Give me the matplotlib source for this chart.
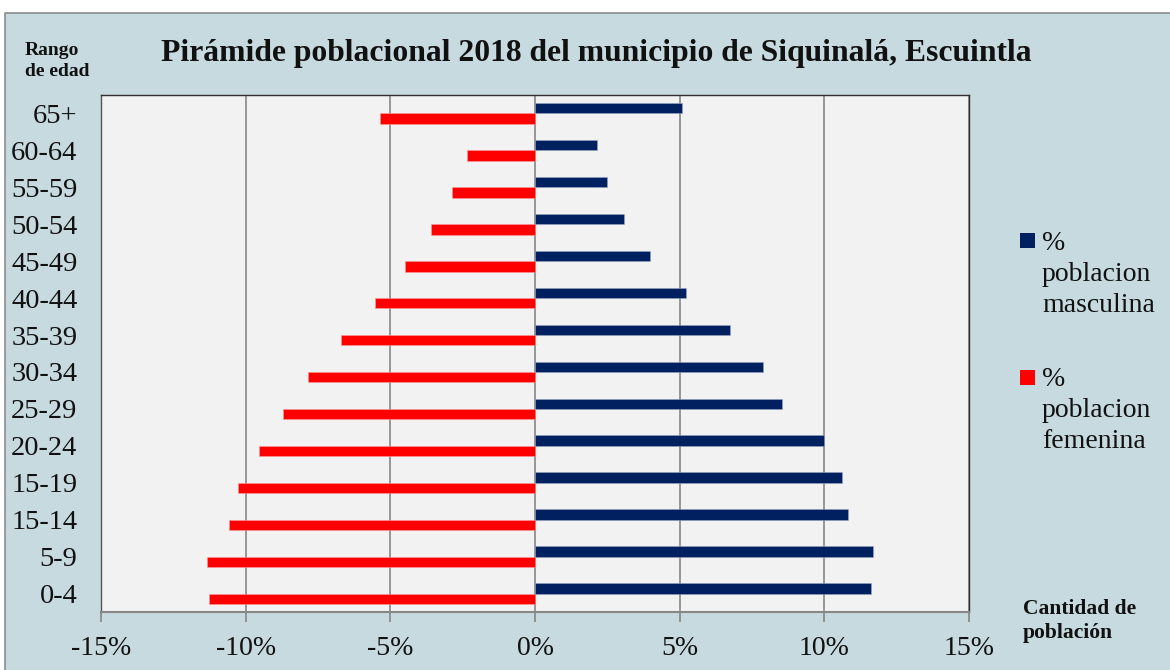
import matplotlib
matplotlib.use("Agg")
import matplotlib.pyplot as plt
from matplotlib.patches import Rectangle
from matplotlib.ticker import FuncFormatter

# ---- data ----
age_groups = ["0-4", "5-9", "15-14", "15-19", "20-24", "25-29", "30-34",
              "35-39", "40-44", "45-49", "50-54", "55-59", "60-64", "65+"]
male_pct = [11.60, 11.68, 10.83, 10.62, 9.98, 8.53, 7.89,
            6.75, 5.22, 3.96, 3.06, 2.48, 2.15, 5.08]
female_pct = [11.26, 11.33, 10.56, 10.28, 9.55, 8.72, 7.85,
              6.71, 5.52, 4.48, 3.58, 2.87, 2.34, 5.36]
male_label = "%\npoblacion\nmasculina"
female_label = "%\npoblacion\nfemenina"
title = "Pirámide poblacional 2018 del municipio de Siquinalá, Escuintla"
y_title = "Rango\nde edad"
x_title = "Cantidad de\npoblación"
x_ticks = [-15, -10, -5, 0, 5, 10, 15]

# ---- style ----
W, H = 1170, 670
BG = "#C7DAE0"
PLOT_BG = "#F2F2F2"
MALE = "#002060"
FEMALE = "#FF0000"
GRID = "#878787"
FONT = "Liberation Serif"

plt.rcParams["font.family"] = [FONT, "DejaVu Serif"]

fig = plt.figure(figsize=(W / 100, H / 100), dpi=100, facecolor="white")

# chart area background with frame
fig.add_artist(Rectangle((5 / W, -0.05), 1.2, (H - 13) / H + 0.05,
                         transform=fig.transFigure, facecolor=BG,
                         edgecolor="#8C8C8C", linewidth=1.2, zorder=-10))

ax = fig.add_axes([101 / W, 1 - 612 / H, (969 - 101) / W, (612 - 95) / H])
ax.set_facecolor(PLOT_BG)

ypos = list(range(len(age_groups)))
bh = 0.28
ax.barh(ypos, male_pct, height=bh, align="edge", color=MALE,
        edgecolor="#9AA6C0", linewidth=0.4, zorder=3)
ax.barh(ypos, [-v for v in female_pct], height=-bh, align="edge",
        color=FEMALE, edgecolor="#FF9A9A", linewidth=0.4, zorder=3)

ax.set_xlim(-15, 15)
ax.set_ylim(-0.5, len(age_groups) - 0.5)
ax.set_xticks(x_ticks)
ax.xaxis.set_major_formatter(FuncFormatter(lambda v, p: f"{int(round(v))}%"))
ax.set_yticks(ypos)
ax.set_yticklabels(age_groups)

ax.grid(axis="x", color=GRID, linewidth=1.2, zorder=1)
ax.set_axisbelow(True)

ax.tick_params(axis="x", direction="out", length=7, width=1.2, color=GRID,
               labelsize=20, pad=10, labelcolor="#111111")
ax.tick_params(axis="y", length=0, labelsize=20.5, pad=17, labelcolor="#111111")

for side in ["top", "right"]:
    ax.spines[side].set_color("#303030")
    ax.spines[side].set_linewidth(1.0)
ax.spines["left"].set_color("#555555")
ax.spines["left"].set_linewidth(1.0)
ax.spines["bottom"].set_color(GRID)
ax.spines["bottom"].set_linewidth(1.5)

# title and axis titles
fig.text(596 / W, 1 - 53 / H, title, ha="center", va="center",
         fontsize=22.8, fontweight="bold", color="#111111")
fig.text(25 / W, 1 - 61 / H, y_title, ha="left", va="center",
         fontsize=14, fontweight="bold", color="#111111", linespacing=1.3)
fig.text(1023 / W, 1 - 621 / H, x_title, ha="left", va="center",
         fontsize=15.5, fontweight="bold", color="#111111", linespacing=1.3)

# legend (drawn manually, marker aligned with first text line)
for col, lab, yc in [(MALE, male_label, 240.5), (FEMALE, female_label, 377)]:
    fig.add_artist(Rectangle((1020 / W, 1 - (yc + 7.5) / H), 15 / W, 15 / H,
                             transform=fig.transFigure, facecolor=col,
                             edgecolor="none"))
    fig.text(1042 / W, 1 - (yc - 10) / H, lab, ha="left", va="top",
             fontsize=20, color="#111111", linespacing=1.32)

fig.savefig("out.png", dpi=100, facecolor=fig.get_facecolor())
